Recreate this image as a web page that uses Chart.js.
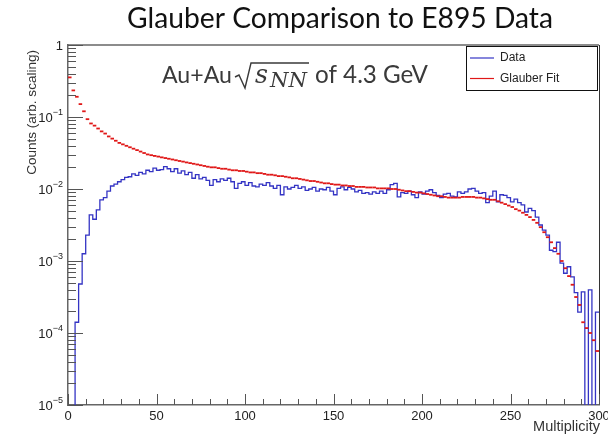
<!DOCTYPE html>
<html><head><meta charset="utf-8">
<script src="https://cdn.jsdelivr.net/npm/chart.js@4/dist/chart.umd.min.js"></script>
<style>html,body{margin:0;padding:0;background:#fff;}canvas{display:block;}</style>
</head><body>
<canvas id="c" width="608" height="435" style="width:608px;height:435px"></canvas>
<script>
// ---- data (2-unit multiplicity bins, 0..300) ----
const binWidth = 2;
const xTicks = [0, 50, 100, 150, 200, 250, 300];
const yTicks = [1e-5, 1e-4, 1e-3, 1e-2, 1e-1, 1];
const seriesLabels = ['Data', 'Glauber Fit'];

// E895 data (blue histogram); 0 = empty bin
const dataCounts = [
 0, 0, 1.41e-4, 4.79e-4, 1.26e-3, 2.29e-3, 4.37e-3, 3.80e-3, 5.13e-3, 7.08e-3,
 7.59e-3, 9.33e-3, 1.10e-2, 1.17e-2, 1.26e-2, 1.35e-2, 1.45e-2, 1.48e-2, 1.62e-2, 1.55e-2,
 1.70e-2, 1.62e-2, 1.82e-2, 1.74e-2, 1.95e-2, 1.82e-2, 1.86e-2, 2.04e-2, 1.91e-2, 1.74e-2,
 1.91e-2, 1.66e-2, 1.78e-2, 1.58e-2, 1.70e-2, 1.41e-2, 1.58e-2, 1.38e-2, 1.45e-2, 1.32e-2,
 1.12e-2, 1.35e-2, 1.26e-2, 1.38e-2, 1.32e-2, 1.41e-2, 1.26e-2, 1.02e-2, 1.20e-2, 1.26e-2,
 1.12e-2, 1.23e-2, 1.10e-2, 1.07e-2, 1.17e-2, 1.12e-2, 1.23e-2, 1.10e-2, 1.02e-2, 1.12e-2,
 8.32e-3, 1.07e-2, 1.00e-2, 1.05e-2, 1.12e-2, 1.02e-2, 1.07e-2, 9.55e-3, 1.00e-2, 1.05e-2,
 9.33e-3, 1.00e-2, 9.77e-3, 1.05e-2, 9.33e-3, 8.32e-3, 1.02e-2, 1.07e-2, 9.77e-3, 1.05e-2,
 1.00e-2, 9.12e-3, 9.55e-3, 8.71e-3, 8.91e-3, 8.51e-3, 9.12e-3, 8.71e-3, 9.33e-3, 8.71e-3,
 9.77e-3, 1.15e-2, 1.20e-2, 7.76e-3, 8.91e-3, 8.71e-3, 9.33e-3, 8.32e-3, 7.59e-3, 9.12e-3,
 8.51e-3, 9.33e-3, 9.77e-3, 8.91e-3, 8.13e-3, 7.59e-3, 8.51e-3, 8.71e-3, 7.94e-3, 7.76e-3,
 9.12e-3, 8.71e-3, 9.12e-3, 1.00e-2, 1.02e-2, 9.33e-3, 8.71e-3, 8.91e-3, 6.46e-3, 7.94e-3,
 9.33e-3, 6.61e-3, 8.32e-3, 8.13e-3, 7.59e-3, 6.61e-3, 7.24e-3, 6.46e-3, 6.03e-3, 4.79e-3,
 5.37e-3, 5.01e-3, 4.07e-3, 3.16e-3, 2.69e-3, 2.29e-3, 1.41e-3, 1.35e-3, 1.82e-3, 9.33e-4,
 6.76e-4, 8.32e-4, 6.03e-4, 3.63e-4, 1.95e-4, 3.72e-4, 0, 3.98e-4, 0, 1.95e-4
];

// Glauber fit (red markers)
const glauberFit = [
 0.355, 0.234, 0.191, 0.151, 0.120, 0.0933, 0.0813, 0.0759, 0.0692, 0.0631,
 0.0589, 0.0537, 0.0501, 0.0468, 0.0437, 0.0417, 0.0398, 0.0380, 0.0363, 0.0347,
 0.0331, 0.0316, 0.0302, 0.0295, 0.0288, 0.0282, 0.0275, 0.0269, 0.0263, 0.0257,
 0.0251, 0.0245, 0.0240, 0.0234, 0.0229, 0.0224, 0.0219, 0.0214, 0.0209, 0.0204,
 0.0200, 0.0200, 0.0195, 0.0191, 0.0191, 0.0186, 0.0182, 0.0182, 0.0178, 0.0178,
 0.0174, 0.0170, 0.0170, 0.0166, 0.0166, 0.0162, 0.0158, 0.0158, 0.0155, 0.0151,
 0.0151, 0.0148, 0.0145, 0.0141, 0.0141, 0.0138, 0.0135, 0.0132, 0.0129, 0.0129,
 0.0126, 0.0123, 0.0120, 0.0120, 0.0117, 0.0115, 0.0115, 0.0112, 0.0112, 0.0110,
 0.0110, 0.0107, 0.0107, 0.0107, 0.0105, 0.0105, 0.0105, 0.0102, 0.0102, 0.0102,
 0.0102, 0.0100, 0.0100, 0.00977, 0.00955, 0.00933, 0.00933, 0.00912, 0.00891, 0.00891,
 0.00871, 0.00851, 0.00832, 0.00813, 0.00794, 0.00794, 0.00776, 0.00759, 0.00759, 0.00759,
 0.00759, 0.00776, 0.00776, 0.00776, 0.00776, 0.00759, 0.00759, 0.00741, 0.00724, 0.00708,
 0.00708, 0.00676, 0.00646, 0.00617, 0.00589, 0.00562, 0.00525, 0.00501, 0.00468, 0.00437,
 0.00407, 0.00372, 0.00339, 0.00295, 0.00251, 0.00214, 0.00182, 0.00151, 0.00126, 0.00100,
 0.000794, 0.000617, 0.000468, 0.000316, 0.000245, 0.000141, 0.000117, 0.000100, 0.0000794, 0.0000562
];

// ---- build datasets ----
const EMPTY = 1e-7; // empty bins drawn below the axis floor (clipped)
const bluePts = dataCounts.map((v, i) => ({x: i * binWidth, y: v > 0 ? v : EMPTY}));
bluePts.push({x: dataCounts.length * binWidth, y: bluePts[bluePts.length - 1].y});
const redPts = glauberFit.map((v, i) => ({x: i * binWidth + binWidth / 2, y: v}));

const BLUE = '#3434c4', RED = '#e01818';
const AXIS_FONT = "'Liberation Sans', Arial, Helvetica, sans-serif";
function fitFont(ctx, text, target, fam, style) {
  ctx.font = (style || '') + ' 20px ' + fam;
  return 20 * target / ctx.measureText(text).width;
}

const rootStyle = {
  id: 'rootStyle',
  afterDatasetsDraw(chart) {
    const {ctx, chartArea: a, scales: {x, y}} = chart;
    ctx.save();
    // frame (top & right)
    ctx.strokeStyle = '#666'; ctx.lineWidth = 1.5;
    ctx.beginPath(); ctx.moveTo(a.left, a.top); ctx.lineTo(a.right, a.top); ctx.stroke();
    ctx.strokeStyle = '#333'; ctx.lineWidth = 1;
    ctx.beginPath(); ctx.moveTo(a.right + 0.5, a.top); ctx.lineTo(a.right + 0.5, a.bottom); ctx.stroke();
    // inward ticks
    ctx.strokeStyle = '#555'; ctx.lineWidth = 1;
    ctx.beginPath();
    for (let v = xTicks[0]; v <= xTicks[xTicks.length - 1]; v += 10) {
      const px = Math.round(x.getPixelForValue(v)) + 0.5;
      const len = (v % 50 === 0) ? 11 : 6;
      ctx.moveTo(px, a.bottom); ctx.lineTo(px, a.bottom - len);
    }
    yTicks.forEach((d, i) => {
      for (let k = 1; k <= 9; k++) {
        if (k > 1 && i === yTicks.length - 1) break;
        const py = Math.round(y.getPixelForValue(k * d)) + 0.5;
        const len = k === 1 ? 15 : 8;
        ctx.moveTo(a.left, py); ctx.lineTo(a.left + len, py);
      }
    });
    ctx.stroke();
    // y tick labels with superscript exponents
    ctx.fillStyle = '#222'; ctx.textBaseline = 'middle';
    const rightEdge = a.left - 5;
    yTicks.forEach(v => {
      const py = y.getPixelForValue(v);
      const e = Math.round(Math.log10(v));
      if (e === 0) {
        ctx.font = '13px ' + AXIS_FONT; ctx.textAlign = 'right';
        ctx.fillText('1', rightEdge, py + 1);
      } else {
        const sup = '\u2212' + Math.abs(e);
        ctx.font = '9px ' + AXIS_FONT;
        const sw = ctx.measureText(sup).width;
        ctx.textAlign = 'left';
        ctx.fillText(sup, rightEdge - sw, py - 4);
        ctx.font = '13px ' + AXIS_FONT; ctx.textAlign = 'right';
        ctx.fillText('10', rightEdge - sw, py + 1);
      }
    });
    ctx.restore();
  },
  afterDraw(chart) {
    const {ctx} = chart;
    ctx.save();
    // main title
    const tSize = fitFont(ctx, 'Glauber Comparison to E895 Data', 426, 'Lato');
    ctx.font = tSize + 'px Lato'; ctx.fillStyle = '#111';
    ctx.textAlign = 'center'; ctx.textBaseline = 'alphabetic';
    ctx.fillText('Glauber Comparison to E895 Data', 340, 28);
    // annotation Au+Au sqrt(s_NN) of 4.3 GeV
    ctx.fillStyle = '#3a3a3a'; ctx.textAlign = 'left';
    ctx.font = fitFont(ctx, 'Au+Au', 70, 'Lato') + 'px Lato';
    ctx.fillText('Au+Au', 162, 83);
    ctx.font = fitFont(ctx, 'of 4.3 GeV', 113, 'Lato') + 'px Lato';
    ctx.fillText('of 4.3 GeV', 315, 83);
    ctx.font = 'italic ' + fitFont(ctx, 's', 13, "'DejaVu Serif'", 'italic') + "px 'DejaVu Serif'";
    ctx.fillText('s', 255, 83);
    ctx.font = 'italic ' + fitFont(ctx, 'NN', 37, "'DejaVu Serif'", 'italic') + "px 'DejaVu Serif'";
    ctx.fillText('NN', 270, 87);
    ctx.strokeStyle = '#3a3a3a'; ctx.lineWidth = 1.4; ctx.lineJoin = 'miter';
    ctx.beginPath(); ctx.moveTo(235, 77); ctx.lineTo(239, 75); ctx.lineTo(245, 88);
    ctx.lineTo(251, 63); ctx.lineTo(309, 63); ctx.stroke();
    // axis titles
    ctx.fillStyle = '#333';
    const yt = 'Counts (arb. scaling)';
    ctx.font = fitFont(ctx, yt, 125, AXIS_FONT) + 'px ' + AXIS_FONT;
    ctx.save(); ctx.translate(32, 50); ctx.rotate(-Math.PI / 2);
    ctx.textAlign = 'right'; ctx.textBaseline = 'middle';
    ctx.fillText(yt, 0, 0); ctx.restore();
    ctx.font = fitFont(ctx, 'Multiplicity', 67, AXIS_FONT) + 'px ' + AXIS_FONT;
    ctx.textAlign = 'right'; ctx.textBaseline = 'alphabetic';
    ctx.fillText('Multiplicity', 600, 431);
    // legend box
    const lx = 466, ly = 46, lw = 131, lh = 44;
    ctx.fillStyle = '#fff'; ctx.fillRect(lx, ly, lw, lh);
    ctx.strokeStyle = '#111'; ctx.lineWidth = 1;
    ctx.strokeRect(lx + 0.5, ly + 0.5, lw, lh);
    ctx.font = '12px ' + AXIS_FONT; ctx.textAlign = 'left'; ctx.textBaseline = 'middle';
    chart.data.datasets.forEach((ds, i) => {
      const yy = 58 + i * 20.5;
      ctx.strokeStyle = ds.borderColor; ctx.lineWidth = 1.2;
      ctx.beginPath(); ctx.moveTo(470, yy); ctx.lineTo(494, yy); ctx.stroke();
      ctx.fillStyle = '#222'; ctx.fillText(ds.label, 500, yy);
    });
    ctx.restore();
  }
};

new Chart(document.getElementById('c'), {
  type: 'line',
  data: {
    datasets: [
      {label: seriesLabels[0], data: bluePts, borderColor: BLUE, borderWidth: 1.3,
       stepped: 'before', pointRadius: 0, fill: false, order: 2},
      {label: seriesLabels[1], data: redPts, borderColor: RED, backgroundColor: RED,
       showLine: false, pointStyle: 'line', pointBorderWidth: 1.8,
       pointRadius: (c) => { const s = c.chart.scales.x; return s ? (s.getPixelForValue(binWidth) - s.getPixelForValue(0)) / 2 : 1.8; },
       order: 1}
    ]
  },
  options: {
    responsive: false, animation: false, devicePixelRatio: 1,
    layout: {padding: {top: 45, right: 9, left: 0, bottom: 0}},
    plugins: {legend: {display: false}, title: {display: false}, tooltip: {enabled: false}},
    scales: {
      x: {
        type: 'linear', min: xTicks[0], max: xTicks[xTicks.length - 1],
        afterBuildTicks: s => { s.ticks = xTicks.map(v => ({value: v})); },
        afterFit: s => { s.height = 30; s.paddingLeft = 0; s.paddingRight = 0; },
        ticks: {font: {size: 13, family: AXIS_FONT}, color: '#222', padding: 4, maxRotation: 0, autoSkip: false},
        grid: {drawOnChartArea: false, drawTicks: false},
        border: {display: true, color: '#666', width: 1.5}
      },
      y: {
        type: 'logarithmic', min: yTicks[0], max: yTicks[yTicks.length - 1],
        afterBuildTicks: s => { s.ticks = yTicks.map(v => ({value: v, major: true})); },
        afterFit: s => { s.width = 68; s.paddingTop = 0; s.paddingBottom = 0; },
        ticks: {display: false},
        grid: {drawOnChartArea: false, drawTicks: false},
        border: {display: true, color: '#666', width: 1.5}
      }
    }
  },
  plugins: [rootStyle]
});
</script>
</body></html>
